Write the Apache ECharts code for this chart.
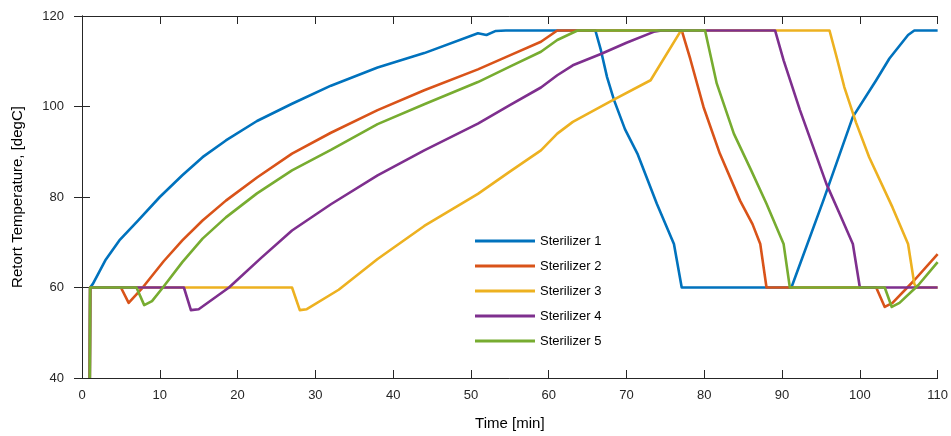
<!DOCTYPE html>
<html style="height: 100%">
<head>
    <meta charset="utf-8">
</head>
<body style="height: 100%; margin: 0; background: #fff">
<div id="container" style="width: 951px; height: 436px"></div>
<script type="text/javascript" src="https://cdn.jsdelivr.net/npm/echarts@6/dist/echarts.min.js"></script>
<script type="text/javascript">
    // [time (min), retort temperature (degC)]
    var names = ['Sterilizer 1', 'Sterilizer 2', 'Sterilizer 3', 'Sterilizer 4', 'Sterilizer 5'];
    var colors = ['#0072BD', '#D95319', '#EDB120', '#7E2F8E', '#77AC30'];

    var ster1 = [[1, 40], [1.05, 60], [1.4, 60.8], [3, 66], [4.8, 70.4], [7.2, 74.8], [10, 80], [12.9, 84.8],
        [15.5, 88.8], [18.5, 92.5], [22.5, 96.8], [27, 100.6], [32, 104.6], [38, 108.6], [44, 111.8],
        [50.9, 116.2], [52, 115.8], [53.2, 116.7], [54.5, 116.8], [66, 116.8], [66.7, 112.5], [67.5, 106.5],
        [68.4, 101.4], [69.8, 95], [71.4, 89.6], [73.9, 78.5], [76.1, 69.6], [77.1, 60], [91.2, 60],
        [95.3, 79.2], [99.1, 97.7], [102.1, 105.8], [103.8, 110.6], [106.2, 115.8], [107, 116.8], [110, 116.8]];
    var ster2 = [[1, 40], [1.05, 60], [5, 60], [6, 56.6], [7.8, 60], [10.5, 65.8], [12.9, 70.4], [15.5, 74.8],
        [18.5, 79.2], [22.5, 84.3], [27, 89.6], [32, 94.2], [38, 99.2], [44, 103.6], [50.9, 108.2],
        [55, 111.3], [59, 114.3], [61.1, 116.8], [77.1, 116.8], [78.2, 110.5], [79.9, 99.9], [82, 89.6],
        [84.6, 79.2], [86.2, 74], [87.2, 69.6], [88, 60], [102.1, 60], [103.2, 55.7], [104.2, 56.6],
        [107, 61.6], [110, 67.4]];
    var ster3 = [[1, 40], [1.05, 60], [27, 60], [28, 55], [28.9, 55.2], [33, 59.5], [38, 66.3], [44, 73.6],
        [50.9, 80.7], [55, 85.6], [59, 90.3], [61.1, 94], [63.1, 96.6], [68, 101.2], [73.1, 105.8],
        [76.9, 116.5], [77.5, 116.8], [96.1, 116.8], [97, 111], [98, 104.3], [99.5, 96.5], [101.2, 88.8],
        [104.2, 77.7], [106.2, 69.6], [107, 60.8], [107.3, 60], [110, 60]];
    var ster4 = [[1, 40], [1.05, 60], [13.1, 60], [14, 55], [15, 55.2], [18.9, 60], [23, 66.5], [27, 72.6],
        [32, 78.4], [38, 84.8], [44, 90.3], [50.9, 96.2], [55, 100.3], [59, 104.2], [61.1, 106.9],
        [63.1, 109.1], [66.7, 111.6], [70, 114.1], [73.5, 116.5], [74.5, 116.8], [89.1, 116.8],
        [90.2, 110.2], [92.3, 99.2], [95.7, 82.9], [97.4, 76.3], [99.1, 69.6], [100, 60], [110, 60]];
    var ster5 = [[1, 40], [1.05, 60], [7, 60], [8, 56.1], [9, 57], [10.4, 60], [12.9, 65.6], [15.5, 70.8],
        [18.5, 75.5], [22.5, 80.8], [27, 85.9], [32, 90.4], [38, 96.1], [44, 100.5], [50.9, 105.4],
        [55, 108.8], [59, 112.1], [61.1, 114.7], [63.7, 116.8], [80.1, 116.8], [81.6, 105.1],
        [83.8, 94], [86, 86], [88, 78.5], [90.2, 69.6], [91, 60], [103.2, 60], [104.1, 55.7],
        [105.1, 56.6], [107.5, 60.5], [110, 65.6]];
    var seriesData = [ster1, ster2, ster3, ster4, ster5];

    var xTicks = {min: 0, max: 110, interval: 10};
    var yTicks = {min: 40, max: 120, interval: 20};

    var axisColor = '#262626';
    var font = 'Liberation Sans, Arial, sans-serif';

    var dom = document.getElementById('container');
    var myChart = echarts.init(dom, null, {renderer: 'canvas'});

    var series = [];
    for (var i = 0; i < names.length; i++) {
        series.push({
            name: names[i],
            type: 'line',
            data: seriesData[i],
            showSymbol: false,
            symbol: 'none',
            animation: false,
            clip: true,
            color: colors[i],
            lineStyle: {width: 2.6, color: colors[i], join: 'round'}
        });
    }

    var tickStyle = {show: true, inside: true, length: 8, lineStyle: {color: axisColor, width: 1}};
    var lineStyle = {show: true, lineStyle: {color: axisColor, width: 1}};

    var option = {
        backgroundColor: '#ffffff',
        animation: false,
        grid: {left: 82, right: 9, top: 16, bottom: 58, containLabel: false},
        legend: {
            orient: 'vertical',
            left: 475,
            top: 230,
            padding: 0,
            icon: 'rect',
            itemWidth: 60,
            itemHeight: 3,
            itemGap: 3,
            data: names,
            textStyle: {fontFamily: font, fontSize: 13, color: '#000', lineHeight: 22}
        },
        xAxis: [{
            type: 'value',
            min: xTicks.min, max: xTicks.max, interval: xTicks.interval,
            name: 'Time [min]',
            nameLocation: 'middle',
            nameGap: 38,
            nameTextStyle: {fontFamily: font, fontSize: 15, color: '#000'},
            axisLine: lineStyle,
            axisTick: tickStyle,
            axisLabel: {fontFamily: font, fontSize: 13, color: axisColor, margin: 11},
            splitLine: {show: false}
        }, {
            type: 'value', position: 'top',
            min: xTicks.min, max: xTicks.max, interval: xTicks.interval,
            axisLine: lineStyle,
            axisTick: tickStyle,
            axisLabel: {show: false},
            splitLine: {show: false}
        }],
        yAxis: [{
            type: 'value',
            min: yTicks.min, max: yTicks.max, interval: yTicks.interval,
            name: 'Retort Temperature, [degC]',
            nameLocation: 'middle',
            nameGap: 57,
            nameTextStyle: {fontFamily: font, fontSize: 15, color: '#000'},
            axisLine: lineStyle,
            axisTick: tickStyle,
            axisLabel: {fontFamily: font, fontSize: 13, color: axisColor, margin: 18},
            splitLine: {show: false}
        }, {
            type: 'value', position: 'right',
            min: yTicks.min, max: yTicks.max, interval: yTicks.interval,
            axisLine: lineStyle,
            axisTick: tickStyle,
            axisLabel: {show: false},
            splitLine: {show: false}
        }],
        series: series
    };

    myChart.setOption(option);
</script>
</body>
</html>
